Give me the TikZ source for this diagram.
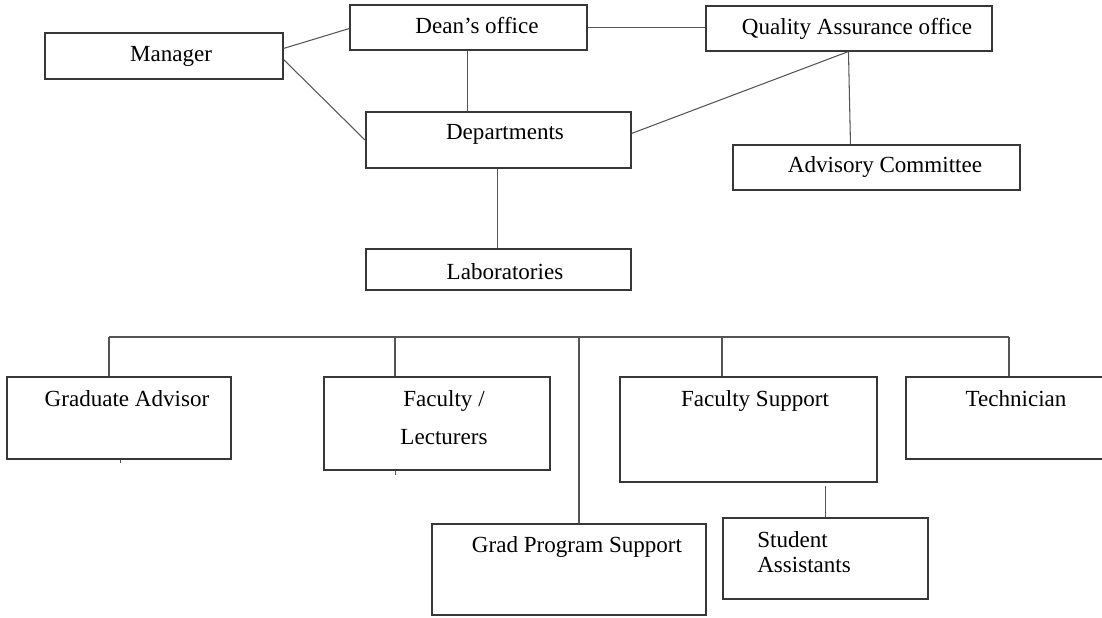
\documentclass[tikz,border=0pt]{standalone}
\usepackage{fontspec}
\setmainfont{Liberation Serif}
\usetikzlibrary{calc,fit}
\definecolor{orgline}{RGB}{55,55,55}
\definecolor{orglink}{RGB}{85,85,85}

\begin{document}
\begin{tikzpicture}[x=0.025cm, y=-0.025cm,
    unit/.style={draw=orgline, line width=0.75pt, inner sep=0pt},
    lbl/.style={anchor=base, inner sep=0pt, font=\fontsize{16.4}{20}\selectfont},
    link/.style={draw=orglink, line width=0.75pt}]
    \useasboundingbox (0,0) rectangle (1102,617);

    % Top level offices
    \node[unit, fit={(45,33) (283,79)}] (man) {};
    \node[unit, fit={(350,5) (587,50)}] (dean) {};
    \node[unit, fit={(706,6) (992,51)}] (qa) {};
    \node[unit, fit={(366,112) (631,168)}] (dept) {};
    \node[unit, fit={(733,145) (1020,190)}] (adv) {};
    \node[unit, fit={(366,249) (631,290)}] (labs) {};
    \node[lbl] (tMan) at (171,62) {Manager};
    \node[lbl] (tDean) at (477,34) {Dean’s office};
    \node[lbl] (tQa) at (857,35) {Quality Assurance office};
    \node[lbl] (tDept) at (505,140) {Departments};
    \node[lbl] (tAdv) at (885,173) {Advisory Committee};
    \node[lbl] (tLabs) at (505,279) {Laboratories};

    % Lab staff
    \node[unit, fit={(7,377) (231,459)}] (gadv) {};
    \node[unit, fit={(324,377) (550,470)}] (fac) {};
    \node[unit, fit={(620,377) (877,482)}] (fsup) {};
    \node[unit, fit={(906,377) (1112,459)}] (tech) {};
    \node[unit, fit={(432,524) (706,615)}] (gps) {};
    \node[unit, fit={(723,518) (928,599)}] (ssa) {};
    \node[lbl] (tGadv) at (127,406) {Graduate Advisor};
    \node[lbl] (tFacA) at (444,406) {Faculty /};
    \node[lbl] (tFacB) at (444,444) {Lecturers};
    \node[lbl] (tFsup) at (755,406) {Faculty Support};
    \node[lbl] (tTech) at (1016,406) {Technician};
    \node[lbl] (tGps) at (577,552) {Grad Program Support};
    \node[lbl, anchor=base west] (tSsaA) at (757,547) {Student};
    \node[lbl, anchor=base west] (tSsaB) at (757,572) {Assistants};

    % Links between offices
    \draw[link] ($(man.north east)+(0,16)$) -- ($(dean.north west)+(0,24)$);
    \draw[link] ($(man.north east)+(0,27)$) -- ($(dept.north west)+(0,29)$);
    \draw[link] (dean.east) -- (qa.west |- dean.east);
    \draw[link] ($(dean.south west)+(118,0)$) -- ($(dept.north west)+(102,0)$);
    \draw[link] ($(qa.south west)+(143,0)$) -- ($(dept.north east)+(0,22)$);
    \draw[link] ($(qa.south west)+(143,0)$) -- ($(adv.north west)+(118,0)$);
    \draw[link] ($(dept.south west)+(132,0)$) -- ($(labs.north west)+(132,0)$);

    % Bus under the laboratories
    \coordinate (busL) at (109,337);
    \coordinate (busR) at (1009,337);
    \coordinate (dFac) at (395,337);
    \coordinate (dGps) at (579,337);
    \coordinate (dFsup) at (722,337);
    \draw[link] (busL) -- (busR);
    \draw[link] ($(labs.south west)+(132,0)$) -- ($(labs.south west)+(132,0)$ |- busL);
    \draw[link] (busL) -- (busL |- gadv.north);
    \draw[link] (dFac) -- (dFac |- fac.north);
    \draw[link] (dGps) -- (dGps |- gps.north);
    \draw[link] (dFsup) -- (dFsup |- fsup.north);
    \draw[link] (busR) -- (busR |- tech.north);
    \draw[link] (ssa.north) -- ($(ssa.north |- fsup.south)+(0,3)$);

    % small ticks under the boxes
    \draw[link] ($(gadv.south west)+(114,0)$) -- ++(0,3);
    \draw[link] ($(fac.south west)+(72,0)$) -- ++(0,4);
\end{tikzpicture}
\end{document}
